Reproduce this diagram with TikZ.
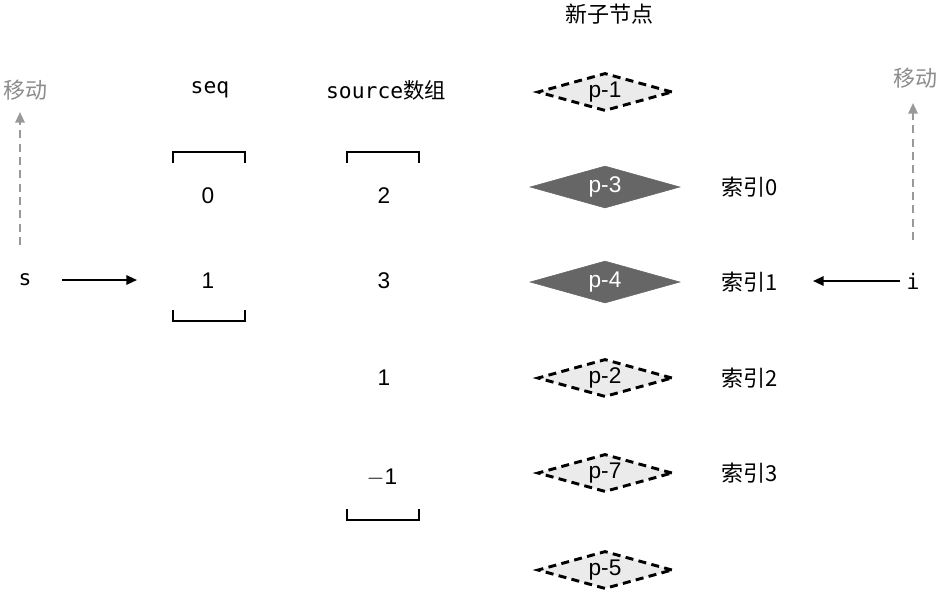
\documentclass[tikz,border=0pt]{standalone}
\usepackage{fontspec}
\setmainfont{Liberation Sans}
\setmonofont{DejaVu Sans Mono}
\newfontfamily\cjk{Noto Sans CJK SC}
\usetikzlibrary{shapes.geometric,arrows.meta}
\begin{document}
\begin{tikzpicture}[x=0.75pt,y=-0.75pt,
  txt/.style={font=\fontsize{17}{20}\selectfont, inner sep=0pt},
  mono/.style={font=\fontsize{16}{20}\selectfont\ttfamily, inner sep=0pt},
  cj/.style={font=\fontsize{16.5}{20}\selectfont\cjk, inner sep=0pt},
  dia/.style={diamond, aspect=3.6, minimum width=150*0.75pt, minimum height=42*0.75pt, inner sep=0pt, font=\fontsize{17}{20}\selectfont},
  solidd/.style={dia, fill=black!60, draw=black!60, text=white},
  dashd/.style={dia, fill=black!8, draw=black, line width=2.2pt, dash pattern=on 6pt off 4pt, minimum width=135*0.75pt, minimum height=38*0.75pt},
  arr/.style={-{Triangle[length=8pt,width=7pt]}, line width=1.5pt},
  garr/.style={-{Triangle[length=8pt,width=7pt]}, line width=1.6pt, draw=black!40, dash pattern=on 6pt off 4pt},
  brk/.style={line width=1pt}]
\useasboundingbox (0,0) rectangle (941,594);
\node[cj, text=black!45] (mvL) at (25,90) {移动};
\node[mono] (s) at (25,280) {s};
\coordinate (mvLs) at (20,245);
\coordinate (mvLe) at (20,112);
\draw[garr] (mvLs) -- (mvLe);
\coordinate (sa) at (62,280);
\coordinate (sb) at (137,280);
\draw[arr] (sa) -- (sb);
\node[mono] (seq) at (210,90) {seq};
\draw[brk] (173,163) -- (173,152) -- (245,152) -- (245,163);
\draw[brk] (173,310) -- (173,321) -- (245,321) -- (245,310);
\node[txt] (q0) at (208,196) {0};
\node[txt] (q1) at (208,281) {1};
\node[font=\fontsize{16}{20}\selectfont, inner sep=0pt] (src) at (386,90) {\ttfamily source\cjk 数组};
\draw[brk] (347,163) -- (347,152) -- (419,152) -- (419,163);
\draw[brk] (347,509) -- (347,520) -- (419,520) -- (419,509);
\node[txt] (a0) at (384,196) {2};
\node[txt] (a1) at (384,281) {3};
\node[txt] (a2) at (384,378) {1};
\node[txt] (a3) at (382,478) {$-$1};
\node[cj] (title) at (609,14) {新子节点};
\node[dashd] (p1) at (605,92) {p-1};
\node[solidd] (p3) at (605,187) {p-3};
\node[solidd] (p4) at (605,282) {p-4};
\node[dashd] (p2) at (605,378) {p-2};
\node[dashd] (p7) at (605,473) {p-7};
\node[dashd] (p5) at (605,570) {p-5};
\node[cj] (i0) at (750,187) {索引0};
\node[cj] (i1) at (750,282) {索引1};
\node[cj] (i2) at (750,378) {索引2};
\node[cj] (i3) at (750,473) {索引3};
\node[mono] (i) at (913,281) {i};
\coordinate (ia) at (900,281);
\coordinate (ib) at (813,281);
\draw[arr] (ia) -- (ib);
\node[cj, text=black!45] (mvR) at (915,78) {移动};
\coordinate (mvRs) at (913,240);
\coordinate (mvRe) at (913,103);
\draw[garr] (mvRs) -- (mvRe);
\end{tikzpicture}
\end{document}
